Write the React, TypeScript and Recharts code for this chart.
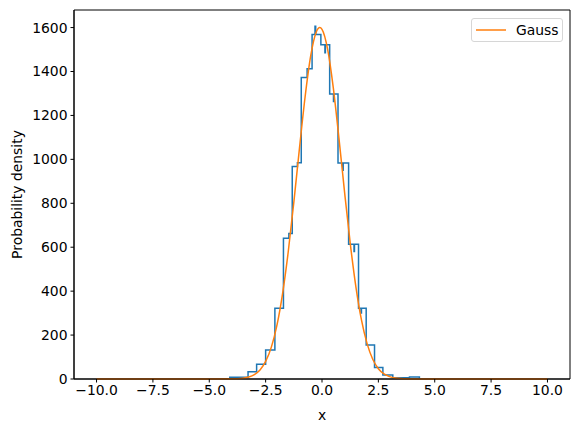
import React from 'react';
import { ComposedChart, Line, XAxis, YAxis, Legend, ReferenceArea, Label } from 'recharts';

// histogram bin edges and counts
const binEdges = [-4.09, -3.28, -2.9, -2.5, -2.09, -1.71, -1.47, -1.32, -1.09, -0.92, -0.66, -0.44, -0.31, -0.28, -0.05, 0.13, 0.15, 0.34, 0.51, 0.53, 0.71, 0.92, 0.94, 1.18, 1.42, 1.44, 1.62, 1.73, 1.75, 1.96, 2.33, 2.7, 3.14, 3.88, 4.32];
const binCounts = [8, 33, 67, 132, 322, 641, 662, 968, 985, 1373, 1412, 1568, 1606, 1568, 1522, 1485, 1522, 1298, 1263, 1298, 983, 950, 983, 614, 580, 614, 322, 300, 322, 155, 52, 18, 6, 9];

// gauss curve samples
const gaussX = [-10, -5, -4, -3.75, -3.5, -3.25, -3, -2.75, -2.5, -2.25, -2, -1.75, -1.5, -1.25, -1, -0.75, -0.5, -0.25, -0.1, 0, 0.25, 0.5, 0.75, 1, 1.25, 1.5, 1.75, 2, 2.25, 2.5, 2.75, 3, 3.25, 3.5, 3.75, 4, 5, 10];
const gaussY = [0, 0, 0.6, 1.6, 3.9, 9.1, 20, 41, 80, 144, 244, 388, 577, 804, 1050, 1284, 1472, 1581, 1600, 1592, 1501, 1327, 1098, 852, 620, 422, 269, 161, 90, 47, 23, 11, 4.6, 1.9, 0.7, 0.3, 0, 0];

const xTicks = [-10, -7.5, -5, -2.5, 0, 2.5, 5, 7.5, 10];
const yTicks = [0, 200, 400, 600, 800, 1000, 1200, 1400, 1600];

const histData = [
  { x: binEdges[0], y: 0 },
  ...binCounts.map((c, i) => ({ x: binEdges[i], y: c })),
  { x: binEdges[binEdges.length - 1], y: 0 },
];
const gaussData = gaussX.map((x, i) => ({ x, y: gaussY[i] }));

const fmtX = (v: number) => v.toFixed(1).replace('-', '\u2212');
const tickStyle = { fill: '#000', fontSize: 13.9, fontFamily: 'DejaVu Sans' };

function LegendBox() {
  return (
    <div style={{ border: '1px solid #d6d6d6', borderRadius: 3, background: '#fff', height: 22, display: 'flex', alignItems: 'center', fontFamily: 'DejaVu Sans', fontSize: 13.9, color: '#000' }}>
      <svg width={44} height={10}>
        <line x1={4} y1={5} x2={34} y2={5} stroke="#ff7f0e" strokeWidth={1.5} />
      </svg>
      <span style={{ lineHeight: '14px' }}>Gauss</span>
    </div>
  );
}

export default function App() {
  return (
    <div style={{ position: 'absolute', left: 0, top: 0, width: 580, height: 432, background: '#fff', fontFamily: 'DejaVu Sans' }}>
      <ComposedChart width={580} height={432} margin={{ top: 10, right: 10, bottom: 0, left: 0 }}>
        <XAxis
          dataKey="x"
          type="number"
          domain={[-11, 11]}
          ticks={xTicks}
          tickFormatter={fmtX}
          allowDuplicatedCategory={false}
          height={53}
          tickSize={3.5}
          tickMargin={3}
          tick={tickStyle}
          stroke="#000"
          tickLine={{ stroke: '#000' }}
        >
          <Label content={(p: any) => (
            <text x={p.viewBox.x + p.viewBox.width / 2} y={p.viewBox.y + 36} textAnchor="middle" dominantBaseline="central" fontSize={13.9} fontFamily="DejaVu Sans" fill="#000">x</text>
          )} />
        </XAxis>
        <YAxis
          type="number"
          domain={[0, 1680]}
          ticks={yTicks}
          width={74}
          tickSize={3.5}
          tickMargin={3}
          tick={tickStyle}
          stroke="#000"
          tickLine={{ stroke: '#000' }}
        >
          <Label content={(p: any) => {
            const cx = p.viewBox.x + p.viewBox.width - 57;
            const cy = p.viewBox.y + p.viewBox.height / 2;
            return (
              <text x={cx} y={cy} transform={`rotate(-90 ${cx} ${cy})`} textAnchor="middle" dominantBaseline="central" fontSize={13.9} fontFamily="DejaVu Sans" fill="#000">Probability density</text>
            );
          }} />
        </YAxis>
        <ReferenceArea x1={-11} x2={11} y1={0} y2={1680} stroke="#000" strokeWidth={1} fill="none" fillOpacity={0} />
        <Line data={histData} dataKey="y" type="stepAfter" stroke="#1f77b4" strokeWidth={1.5} dot={false} isAnimationActive={false} strokeLinejoin="miter" />
        <Line data={gaussData} dataKey="y" type="monotone" stroke="#ff7f0e" strokeWidth={1.5} dot={false} isAnimationActive={false} />
        <Legend
          layout="vertical"
          align="center"
          verticalAlign="middle"
          content={() => <LegendBox />}
          wrapperStyle={{ position: 'absolute', left: 471, top: 18, width: 92, height: 24 }}
        />
      </ComposedChart>
    </div>
  );
}
